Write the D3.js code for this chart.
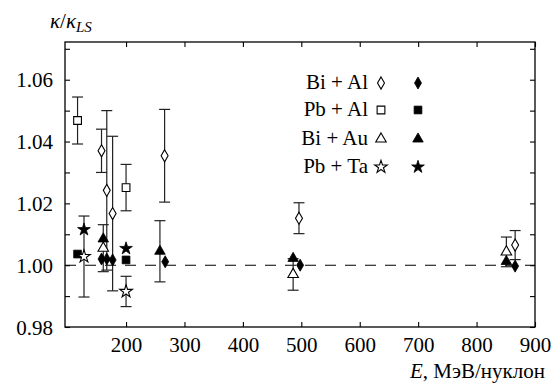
<!DOCTYPE html>
<html><head><meta charset="utf-8">
<script src="https://cdn.jsdelivr.net/npm/d3@7"></script>
</head>
<body style="margin:0">
<svg id="fig" width="552" height="385" style="font-family:'Liberation Serif',serif"></svg>
<script>
// ---- data ----
const reactions = ["Bi+Al", "Pb+Al", "Bi+Au", "Pb+Ta"];
const xTicks = [200, 300, 400, 500, 600, 700, 800, 900];
const yTickLabels = [0.98, 1.00, 1.02, 1.04, 1.06];
const yMinorTicks = [0.98, 0.99, 1.00, 1.01, 1.02, 1.03, 1.04, 1.05, 1.06, 1.07];

// open markers (with error bars)
const biAlOpenE = [158, 167, 177, 266, 496, 866];
const biAlOpenV = [1.0370, 1.0242, 1.0167, 1.0354, 1.0152, 1.0065];
const biAlOpenErr = [0.0070, 0.0258, 0.0250, 0.0150, 0.0050, 0.0047];
const pbAlOpenE = [117, 200];
const pbAlOpenV = [1.0468, 1.0251];
const pbAlOpenErr = [0.0076, 0.0075];
const biAuOpenE = [161, 486, 851];
const biAuOpenV = [1.0055, 0.9970, 1.0043];
const biAuOpenErr = [0.0076, 0.0051, 0.0048];
const pbTaOpenE = [128, 200];
const pbTaOpenV = [1.0028, 0.9915];
const pbTaOpenErr = [0.0131, 0.0049];

// filled markers
const biAlFilledE = [158, 167, 177, 267, 498, 866];
const biAlFilledV = [1.0020, 1.0020, 1.0017, 1.0011, 1.0000, 0.9997];
const pbAlFilledE = [117, 200];
const pbAlFilledV = [1.0036, 1.0017];
const biAuFilledE = [161, 258, 486, 851];
const biAuFilledV = [1.0085, 1.0045, 1.0022, 1.0012];
const biAuFilledErr = [0, 0.0099, 0, 0];
const pbTaFilledE = [128, 200];
const pbTaFilledV = [1.0115, 1.0054];

// ---- layout ----
const svg = d3.select("#fig");
const L = 65, R = 535, T = 42, B = 327;
const x = d3.scaleLinear().domain([95.5, 900]).range([L, R]);
const y = d3.scaleLinear().domain([0.98, 1.0722]).range([B, T]);

function serif(sel, size) {
  return sel.style("font-family", "Liberation Serif").style("font-size", size + "px");
}

const symbols = {
  "Bi+Al": d3.symbol().type(d3.symbolDiamond).size(42),
  "Pb+Al": d3.symbol().type(d3.symbolSquare).size(60),
  "Bi+Au": d3.symbol().type(d3.symbolTriangle).size(48),
  "Pb+Ta": d3.symbol().type(d3.symbolStar).size(50)
};

const openSets = [
  {r: "Bi+Al", E: biAlOpenE, V: biAlOpenV, err: biAlOpenErr},
  {r: "Pb+Al", E: pbAlOpenE, V: pbAlOpenV, err: pbAlOpenErr},
  {r: "Bi+Au", E: biAuOpenE, V: biAuOpenV, err: biAuOpenErr},
  {r: "Pb+Ta", E: pbTaOpenE, V: pbTaOpenV, err: pbTaOpenErr}
];
const filledSets = [
  {r: "Bi+Al", E: biAlFilledE, V: biAlFilledV, err: biAlFilledE.map(() => 0)},
  {r: "Pb+Al", E: pbAlFilledE, V: pbAlFilledV, err: pbAlFilledE.map(() => 0)},
  {r: "Bi+Au", E: biAuFilledE, V: biAuFilledV, err: biAuFilledErr},
  {r: "Pb+Ta", E: pbTaFilledE, V: pbTaFilledV, err: pbTaFilledE.map(() => 0)}
];

// dashed reference line
svg.append("line")
  .attr("x1", L).attr("x2", R).attr("y1", y(1)).attr("y2", y(1))
  .attr("stroke", "#000").attr("stroke-width", 1.1)
  .attr("stroke-dasharray", "11,9");

// axes
const tickLen = 5;
const axB = d3.axisBottom(x).tickValues(xTicks).tickSize(-tickLen).tickPadding(10).tickFormat(d3.format("d"));
const axT = d3.axisTop(x).tickValues(xTicks).tickSize(-tickLen).tickFormat("");
const axLeft = d3.axisLeft(y).tickValues(yMinorTicks).tickSize(-tickLen).tickPadding(12)
  .tickFormat(d => yTickLabels.some(v => Math.abs(v - d) < 1e-9) ? d3.format(".2f")(d) : "");
const axRight = d3.axisRight(y).tickValues(yMinorTicks).tickSize(-tickLen).tickFormat("");

function styleAxis(g) {
  g.attr("font-family", "Liberation Serif").attr("font-size", 21);
  g.select(".domain").remove();
  g.selectAll(".tick line").attr("stroke", "#000").attr("stroke-width", 1.1);
  serif(g.selectAll(".tick text"), 21).attr("fill", "#000");
}
svg.append("g").attr("transform", `translate(0,${B})`).call(axB).call(styleAxis);
svg.append("g").attr("transform", `translate(0,${T})`).call(axT).call(styleAxis);
svg.append("g").attr("transform", `translate(${L},0)`).call(axLeft).call(styleAxis)
  .selectAll(".tick text").attr("dy", "0.34em");
svg.append("g").attr("transform", `translate(${R},0)`).call(axRight).call(styleAxis);

svg.append("rect").attr("x", L).attr("y", T).attr("width", R - L).attr("height", B - T)
  .attr("fill", "none").attr("stroke", "#000").attr("stroke-width", 1.3);

// error bars
const cap = 5.5;
const barG = svg.append("g").attr("stroke", "#222").attr("stroke-width", 1.2).attr("fill", "none");
[...openSets, ...filledSets].forEach(s => {
  s.E.forEach((e, i) => {
    const er = s.err[i];
    if (!er) return;
    const cx = x(e), y1 = y(s.V[i] + er), y2 = y(s.V[i] - er);
    barG.append("line").attr("x1", cx).attr("x2", cx).attr("y1", y1).attr("y2", y2);
    barG.append("line").attr("x1", cx - cap).attr("x2", cx + cap).attr("y1", y1).attr("y2", y1);
    barG.append("line").attr("x1", cx - cap).attr("x2", cx + cap).attr("y1", y2).attr("y2", y2);
  });
});

// markers
const mG = svg.append("g");
filledSets.forEach(s => {
  s.E.forEach((e, i) => {
    mG.append("path").attr("d", symbols[s.r]())
      .attr("transform", `translate(${x(e)},${y(s.V[i])})`)
      .attr("fill", "#000").attr("stroke", "#000").attr("stroke-width", 0.8);
  });
});
openSets.forEach(s => {
  s.E.forEach((e, i) => {
    mG.append("path").attr("d", symbols[s.r]())
      .attr("transform", `translate(${x(e)},${y(s.V[i])})`)
      .attr("fill", "#fff").attr("stroke", "#000").attr("stroke-width", 1.1);
  });
});

// legend
const legY = [82, 109, 138, 166];
reactions.forEach((r, i) => {
  serif(svg.append("text"), 21).attr("x", 368).attr("y", legY[i] + 7)
    .attr("text-anchor", "end").text(r.replace("+", " + "));
  svg.append("path").attr("d", symbols[r]())
    .attr("transform", `translate(381,${legY[i] + 1})`)
    .attr("fill", "#fff").attr("stroke", "#000").attr("stroke-width", 1.1);
  svg.append("path").attr("d", symbols[r]())
    .attr("transform", `translate(418,${legY[i] + 1})`)
    .attr("fill", "#000").attr("stroke", "#000").attr("stroke-width", 0.8);
});

// axis titles
const yl = serif(svg.append("text"), 21).attr("x", 50).attr("y", 28);
yl.append("tspan").style("font-style", "italic").text("κ");
yl.append("tspan").text("/");
yl.append("tspan").style("font-style", "italic").text("κ");
yl.append("tspan").style("font-style", "italic").style("font-size", "15px").attr("dy", 4).text("LS");

const xl = serif(svg.append("text"), 21).attr("x", 545).attr("y", 378).attr("text-anchor", "end");
xl.append("tspan").style("font-style", "italic").text("E");
xl.append("tspan").text(", МэВ/нуклон");
</script>
</body></html>
